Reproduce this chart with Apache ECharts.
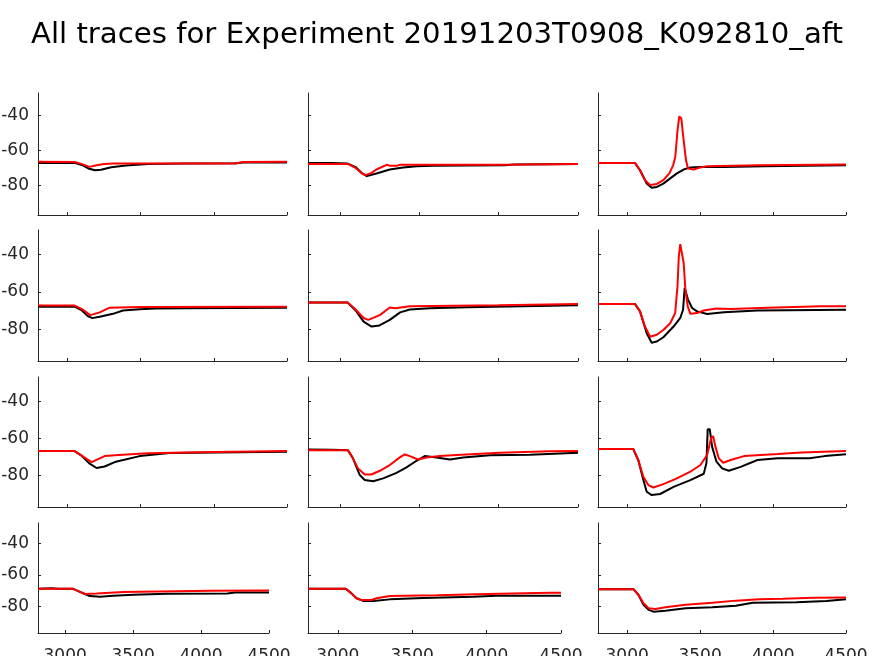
<!DOCTYPE html>
<html>
<head>
<meta charset="utf-8">
<script src="https://cdn.jsdelivr.net/npm/echarts@6/dist/echarts.min.js"></script>
<style>
html,body{margin:0;padding:0;background:#fff;}
#chart{width:874px;height:656px;}
</style>
</head>
<body>
<div id="chart"></div>
<script>
const titleText = "All traces for Experiment 20191203T0908_K092810_aft";
const xTicks = [3000, 3500, 4000, 4500];
const yTicks = [-80, -60, -40];

const r1c1_black = [[2800,-67.1],[3050,-67.1],[3100,-68.3],[3150,-70.5],[3190,-71.3],[3230,-71.0],[3300,-69.6],[3400,-68.6],[3550,-67.8],[3800,-67.4],[4150,-67.3],[4200,-66.9],[4500,-66.9]];
const r1c1_red = [[2800,-66.5],[3050,-66.6],[3100,-67.8],[3150,-69.4],[3200,-68.5],[3250,-67.8],[3320,-67.4],[4150,-67.4],[4200,-66.6],[4500,-66.5]];

const r1c2_black = [[2800,-67.1],[2950,-67.1],[3050,-67.5],[3100,-69.5],[3140,-73],[3170,-74.7],[3231,-73.2],[3315,-70.9],[3399,-69.8],[3483,-69],[3588,-68.8],[4039,-68.4],[4100,-68.0],[4500,-67.7]];
const r1c2_red = [[2800,-67.7],[3050,-67.7],[3100,-70],[3140,-73.2],[3163,-74.1],[3200,-72.8],[3231,-70.9],[3294,-68.2],[3320,-68.8],[3357,-68.8],[3380,-68.2],[4039,-68.2],[4050,-67.7],[4500,-67.7]];

const r1c3_black = [[2800,-67.1],[3053,-67.1],[3088,-71.3],[3134,-78.9],[3168,-81.4],[3203,-80.9],[3248,-79],[3295,-76],[3341,-73.1],[3387,-70.9],[3433,-69.7],[3502,-69.4],[3663,-69.4],[3939,-69],[4500,-68.4]];
const r1c3_red = [[2800,-67.1],[3053,-67.1],[3088,-71.3],[3122,-77],[3157,-79.8],[3203,-79.2],[3248,-77],[3290,-73],[3315,-68.5],[3330,-63.6],[3345,-48.4],[3357,-40.4],[3371,-41.6],[3387,-54.1],[3403,-65.5],[3417,-70.3],[3456,-70.9],[3502,-69.7],[3548,-69],[3900,-68.4],[4500,-68]];

const r2c1_black = [[2800,-68],[3050,-68],[3100,-70],[3140,-73],[3170,-74.1],[3221,-73.3],[3312,-71.8],[3380,-70],[3494,-69.3],[3600,-69],[3800,-68.8],[4500,-68.6]];
const r2c1_red = [[2800,-67.4],[3050,-67.4],[3100,-69.3],[3157,-72.5],[3221,-71],[3289,-68.5],[3500,-68.2],[4500,-68.0]];

const r2c2_black = [[2800,-65.8],[3050,-65.8],[3100,-70],[3150,-76],[3200,-78.6],[3250,-78],[3315,-75],[3380,-71],[3441,-69.5],[3567,-68.8],[3800,-68.3],[4500,-67.2]];
const r2c2_red = [[2800,-65.8],[3050,-65.8],[3100,-69.5],[3150,-74],[3180,-75],[3252,-72.5],[3315,-68.4],[3350,-68.8],[3441,-67.8],[4000,-67.2],[4500,-66.6]];

const r2c3_black = [[2800,-66.5],[3053,-66.5],[3088,-70.5],[3134,-82.2],[3168,-87.2],[3203,-86.6],[3248,-84.3],[3318,-78.6],[3364,-74],[3383,-69.6],[3394,-58],[3403,-59],[3417,-64.2],[3445,-68.7],[3479,-70.5],[3548,-71.9],[3663,-71],[3893,-70],[4500,-69.6]];
const r2c3_red = [[2800,-66.5],[3053,-66.5],[3088,-70.5],[3122,-78.6],[3157,-84],[3203,-83],[3248,-80.4],[3295,-76.8],[3329,-71.4],[3345,-57],[3354,-40.9],[3364,-34.6],[3376,-35.5],[3387,-44.5],[3399,-58.8],[3415,-67.8],[3433,-71.8],[3479,-71.4],[3525,-70],[3612,-69],[3709,-69.2],[3962,-68.5],[4330,-67.8],[4500,-67.8]];

const r3c1_black = [[2800,-66.9],[3050,-66.9],[3100,-69.5],[3150,-73.5],[3200,-76],[3255,-75.2],[3324,-72.8],[3494,-69.6],[3698,-67.9],[4500,-67.3]];
const r3c1_red = [[2800,-66.9],[3050,-66.9],[3100,-69.5],[3166,-72.8],[3255,-69.6],[3350,-69],[3550,-68],[3900,-67.5],[4500,-66.9]];

const r3c2_black = [[2800,-66],[2950,-66.2],[3052,-66.5],[3083,-70.8],[3126,-79.8],[3157,-82.5],[3210,-83.1],[3273,-81.6],[3357,-78.6],[3420,-75.7],[3483,-72.1],[3535,-69.6],[3609,-70.3],[3693,-71.4],[3777,-70.3],[3945,-69.2],[4197,-68.9],[4500,-67.8]];
const r3c2_red = [[2800,-66.5],[3052,-66.5],[3083,-70.8],[3115,-76.2],[3157,-79.5],[3199,-79.5],[3252,-77.5],[3315,-74.4],[3378,-70.3],[3409,-68.7],[3441,-69.6],[3493,-71.4],[3546,-70.3],[3630,-69.6],[3735,-69],[4008,-67.8],[4323,-67],[4500,-66.8]];

const r3c3_black = [[2800,-65.8],[3042,-65.8],[3076,-71.7],[3111,-82.5],[3134,-88.8],[3168,-90.6],[3226,-90],[3318,-86.2],[3433,-82.5],[3525,-79.1],[3543,-73.5],[3552,-55.1],[3566,-55.1],[3582,-64.5],[3612,-72.6],[3651,-76.2],[3697,-77.5],[3778,-75.4],[3893,-71.7],[4031,-70.8],[4250,-70.8],[4353,-69.6],[4500,-68.6]];
const r3c3_red = [[2800,-65.8],[3042,-65.8],[3076,-71.7],[3111,-80.7],[3145,-85.2],[3180,-86.5],[3248,-84.7],[3341,-81.6],[3433,-78],[3502,-74.4],[3548,-69],[3575,-60],[3589,-58.8],[3605,-64.5],[3628,-70.8],[3658,-73.2],[3709,-71.7],[3801,-69.6],[4031,-68.5],[4192,-67.6],[4500,-66.9]];

const r4c1_black = [[2800,-68.9],[2900,-68.5],[2950,-68.9],[3059,-68.9],[3096,-70.3],[3145,-72.2],[3182,-73.5],[3256,-73.9],[3354,-73.3],[3502,-72.6],[3749,-72],[4192,-71.9],[4250,-71.3],[4500,-71.3]];
const r4c1_red = [[2800,-68.9],[3059,-68.9],[3096,-70.3],[3145,-72.2],[3232,-71.9],[3428,-70.9],[4069,-70.1],[4500,-70]];

const r4c2_black = [[2800,-68.9],[3054,-68.9],[3092,-71.8],[3126,-74.9],[3170,-76.6],[3237,-76.6],[3350,-75.6],[3574,-74.7],[3910,-73.9],[4068,-73.3],[4500,-73.3]];
const r4c2_red = [[2800,-68.9],[3054,-68.9],[3092,-71.8],[3126,-74.9],[3159,-76],[3227,-76],[3260,-74.9],[3350,-73.5],[3664,-73],[4001,-72.2],[4427,-71.4],[4500,-71.4]];

const r4c3_black = [[2800,-69.1],[3043,-69.1],[3078,-72.8],[3112,-79.1],[3147,-82.3],[3181,-83.4],[3262,-82.8],[3400,-81.3],[3584,-80.6],[3745,-79.6],[3860,-77.7],[4160,-77.5],[4366,-76.6],[4500,-75.6]];
const r4c3_red = [[2800,-69.1],[3043,-69.1],[3078,-72.8],[3112,-78.1],[3147,-81.3],[3193,-81.7],[3262,-80.6],[3400,-79],[3584,-77.7],[3745,-76.4],[3906,-75.6],[4067,-75.2],[4274,-74.6],[4500,-74.4]];

const panels = [
  [r1c1_black, r1c1_red], [r1c2_black, r1c2_red], [r1c3_black, r1c3_red],
  [r2c1_black, r2c1_red], [r2c2_black, r2c2_red], [r2c3_black, r2c3_red],
  [r3c1_black, r3c1_red], [r3c2_black, r3c2_red], [r3c3_black, r3c3_red],
  [r4c1_black, r4c1_red], [r4c2_black, r4c2_red], [r4c3_black, r4c3_red]
];

// layout (pixels)
const rowTop = [93, 230, 377, 523];
const rowH = [122, 131, 130, 110];
const colLeft = [38, 308, 598];
const colW = [[249, 270, 248], [249, 270, 248], [249, 270, 248], [231, 253, 248]];

const AX = '#262626';
const FONT = 'DejaVu Sans';
const grids = [], xAxes = [], yAxes = [], series = [];
for (let i = 0; i < 12; i++) {
  const r = Math.floor(i / 3), c = i % 3;
  grids.push({left: colLeft[c], top: rowTop[r], width: colW[r][c], height: rowH[r], containLabel: false, outerBoundsMode: 'none'});
  xAxes.push({
    type: 'value', gridIndex: i, min: 2800, max: 4500,
    axisLine: {show: true, onZero: false, lineStyle: {color: AX, width: 1}},
    axisTick: {show: true, inside: true, length: 3, customValues: xTicks, lineStyle: {color: AX}},
    axisLabel: {show: r === 3, customValues: xTicks, fontSize: 17, fontFamily: FONT, color: AX, margin: 15,
      formatter: v => String(v)},
    splitLine: {show: false}
  });
  yAxes.push({
    type: 'value', gridIndex: i, min: -97, max: -27,
    axisLine: {show: true, onZero: false, lineStyle: {color: AX, width: 1}},
    axisTick: {show: true, inside: true, length: 3, customValues: yTicks, lineStyle: {color: AX}},
    axisLabel: {show: c === 0, customValues: yTicks, fontSize: 17, fontFamily: FONT, color: AX, margin: 9,
      formatter: v => String(v)},
    splitLine: {show: false}
  });
  const [blk, red] = panels[i];
  series.push({type: 'line', xAxisIndex: i, yAxisIndex: i, data: blk, showSymbol: false, lineStyle: {color: '#000000', width: 2}, itemStyle: {color: '#000'}, silent: true});
  series.push({type: 'line', xAxisIndex: i, yAxisIndex: i, data: red, showSymbol: false, lineStyle: {color: '#ff0000', width: 2}, itemStyle: {color: '#f00'}, silent: true});
}

const chart = echarts.init(document.getElementById('chart'));
chart.setOption({
  animation: false,
  backgroundColor: '#ffffff',
  title: {text: titleText, left: 'center', top: 16, textStyle: {fontSize: 29.2, fontWeight: 'normal', color: '#000', fontFamily: FONT}},
  grid: grids, xAxis: xAxes, yAxis: yAxes, series: series
});
</script>
</body>
</html>
